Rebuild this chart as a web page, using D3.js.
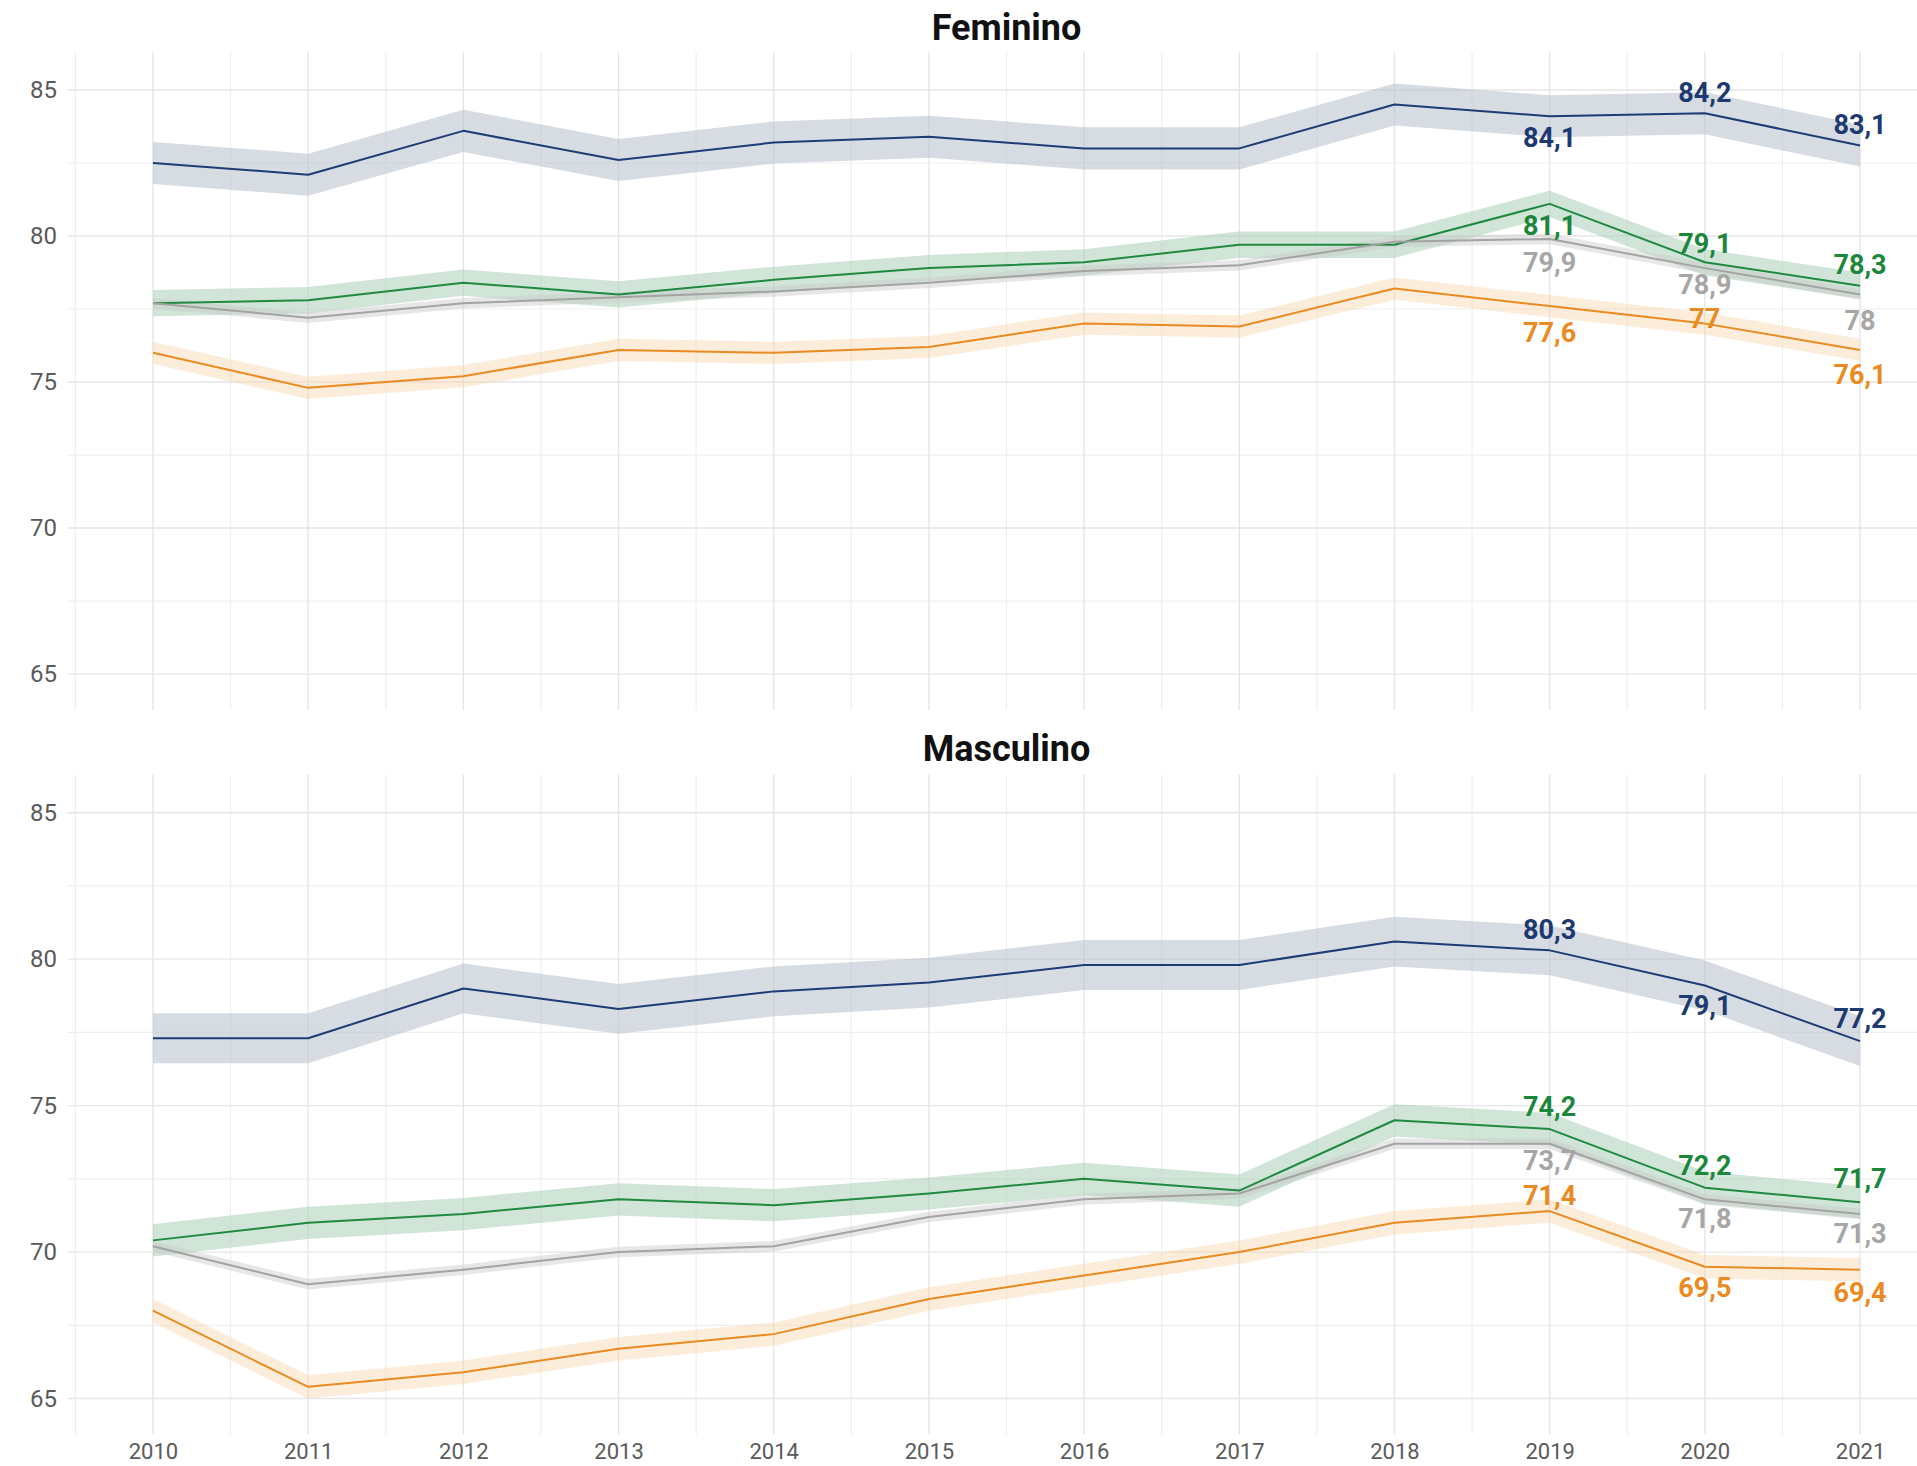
<!DOCTYPE html>
<html>
<head>
<meta charset="utf-8">
<script src="https://cdn.jsdelivr.net/npm/d3@7"></script>
<style>
  body { margin: 0; background: #ffffff; }
  svg { display: block; }
  text { font-family: Roboto, "Noto Sans", "DejaVu Sans", sans-serif; }
</style>
</head>
<body>
<svg id="chart" width="1917" height="1466"></svg>
<script>
// ---------------- DATA ----------------
const years = [2010, 2011, 2012, 2013, 2014, 2015, 2016, 2017, 2018, 2019, 2020, 2021];
const yTickValues = [65, 70, 75, 80, 85];
const panelTitles = ["Feminino", "Masculino"];
const seriesKeys = ["azul", "verde", "cinza", "laranja"];
const labelYears = [2019, 2020, 2021];

// Feminino
const femAzul    = [82.5, 82.1, 83.6, 82.6, 83.2, 83.4, 83.0, 83.0, 84.5, 84.1, 84.2, 83.1];
const femVerde   = [77.7, 77.8, 78.4, 78.0, 78.5, 78.9, 79.1, 79.7, 79.7, 81.1, 79.1, 78.3];
const femCinza   = [77.7, 77.2, 77.7, 77.9, 78.1, 78.4, 78.8, 79.0, 79.8, 79.9, 78.9, 78.0];
const femLaranja = [76.0, 74.8, 75.2, 76.1, 76.0, 76.2, 77.0, 76.9, 78.2, 77.6, 77.0, 76.1];

// Masculino
const mascAzul    = [77.3, 77.3, 79.0, 78.3, 78.9, 79.2, 79.8, 79.8, 80.6, 80.3, 79.1, 77.2];
const mascVerde   = [70.4, 71.0, 71.3, 71.8, 71.6, 72.0, 72.5, 72.1, 74.5, 74.2, 72.2, 71.7];
const mascCinza   = [70.2, 68.9, 69.4, 70.0, 70.2, 71.2, 71.8, 72.0, 73.7, 73.7, 71.8, 71.3];
const mascLaranja = [68.0, 65.4, 65.9, 66.7, 67.2, 68.4, 69.2, 70.0, 71.0, 71.4, 69.5, 69.4];

// confidence-band half widths (azul, verde, cinza, laranja)
const femBand  = [0.72, 0.45, 0.18, 0.38];
const mascBand = [0.85, 0.55, 0.18, 0.40];

// ---------------- STYLE / LAYOUT ----------------
const lineColor   = { azul: "#1d3b75", verde: "#1f8a3f", cinza: "#a3a3a3", laranja: "#ea8a20" };
const labelColor  = { azul: "#1c3970", verde: "#1c873b", cinza: "#a6a6a6", laranja: "#ea8a20" };
const bandColor   = { azul: "#b5c0ca", verde: "#a9cdb8", cinza: "#c9c9c9", laranja: "#f5d3a6" };
const bandOpacity = { azul: 0.55, verde: 0.55, cinza: 0.45, laranja: 0.42 };

// label vertical offsets (px) per panel, series, label year
const labelOffsets = [
  { azul: [21, -21, -21], verde: [21, -19, -21], cinza: [23, 16, 26], laranja: [26, -5, 24] },
  { azul: [-21, 20, -23], verde: [-23, -22, -24], cinza: [17, 19, 19], laranja: [-16, 21, 23] }
];

const panelLayout = [
  { top: 52,    bottom: 710,    titleY: 27 },
  { top: 774.6, bottom: 1434.6, titleY: 748 }
];

const xLeft = 67.6, xRight = 1945.4;
const yDomain = [63.77, 86.3];

const svg = d3.select("#chart");

const x = d3.scaleLinear().domain([2009.45, 2021.55]).range([xLeft, xRight]);

const panelData = [
  { title: panelTitles[0], values: { azul: femAzul, verde: femVerde, cinza: femCinza, laranja: femLaranja }, band: femBand },
  { title: panelTitles[1], values: { azul: mascAzul, verde: mascVerde, cinza: mascCinza, laranja: mascLaranja }, band: mascBand }
];

const fmt = v => String(v).replace(".", ",");

panelData.forEach((p, pi) => {
  const L = panelLayout[pi];
  const y = d3.scaleLinear().domain(yDomain).range([L.bottom, L.top]);
  const g = svg.append("g");

  // minor gridlines
  const xMinor = years.map(d => d - 0.5).concat([years[years.length - 1] + 0.5]);
  const yMinor = yTickValues.map(d => d + 2.5).filter(d => d < yDomain[1]).concat(
    yTickValues.map(d => d - 2.5).filter(d => d > yDomain[0]));
  g.append("g").selectAll("line.xm").data(xMinor).join("line")
    .attr("x1", d => x(d)).attr("x2", d => x(d))
    .attr("y1", L.top).attr("y2", L.bottom)
    .attr("stroke", "#efefef").attr("stroke-width", 1.2);
  g.append("g").selectAll("line.ym").data(Array.from(new Set(yMinor))).join("line")
    .attr("x1", xLeft).attr("x2", xRight)
    .attr("y1", d => y(d)).attr("y2", d => y(d))
    .attr("stroke", "#efefef").attr("stroke-width", 1.2);

  // major gridlines
  g.append("g").selectAll("line.xM").data(years).join("line")
    .attr("x1", d => x(d)).attr("x2", d => x(d))
    .attr("y1", L.top).attr("y2", L.bottom)
    .attr("stroke", "#e6e6e6").attr("stroke-width", 1.4);
  g.append("g").selectAll("line.yM").data(yTickValues).join("line")
    .attr("x1", xLeft).attr("x2", xRight)
    .attr("y1", d => y(d)).attr("y2", d => y(d))
    .attr("stroke", "#e6e6e6").attr("stroke-width", 1.4);

  // y axis labels
  const yAxis = d3.axisLeft(y).tickValues(yTickValues).tickSize(0).tickPadding(0).tickFormat(d3.format("d"));
  const ya = g.append("g").attr("transform", `translate(57,0)`).call(yAxis);
  ya.select(".domain").remove();
  ya.selectAll("text").attr("font-size", 24).attr("fill", "#5a5a5a")
    .attr("font-family", "Roboto, 'Noto Sans', sans-serif");

  // x axis labels (bottom panel only)
  if (pi === panelData.length - 1) {
    const xAxis = d3.axisBottom(x).tickValues(years).tickSize(0).tickPadding(0).tickFormat(d3.format("d"));
    const xa = g.append("g").attr("transform", `translate(0,1443)`).call(xAxis);
    xa.select(".domain").remove();
    xa.selectAll("text").attr("font-size", 22).attr("fill", "#5a5a5a")
      .attr("font-family", "Roboto, 'Noto Sans', sans-serif").attr("dy", "0.71em");
  }

  // title
  g.append("text").attr("x", (xLeft + xRight) / 2).attr("y", L.titleY)
    .attr("text-anchor", "middle").attr("dy", "0.36em")
    .attr("font-size", 36).attr("font-weight", 700).attr("fill", "#111111")
    .text(p.title);

  const clipId = "clip" + pi;
  svg.append("clipPath").attr("id", clipId).append("rect")
    .attr("x", xLeft).attr("y", L.top).attr("width", xRight - xLeft).attr("height", L.bottom - L.top);
  const plot = g.append("g").attr("clip-path", `url(#${clipId})`);

  // ribbons
  seriesKeys.forEach((k, si) => {
    const vals = p.values[k];
    const hw = p.band[si];
    const area = d3.area()
      .x((d, i) => x(years[i]))
      .y0(d => y(d - hw))
      .y1(d => y(d + hw));
    plot.append("path").datum(vals).attr("d", area)
      .attr("fill", bandColor[k]).attr("fill-opacity", bandOpacity[k]);
  });

  // lines
  seriesKeys.forEach(k => {
    const vals = p.values[k];
    const line = d3.line().x((d, i) => x(years[i])).y(d => y(d));
    plot.append("path").datum(vals).attr("d", line)
      .attr("fill", "none").attr("stroke", lineColor[k]).attr("stroke-width", 2)
      .attr("stroke-linejoin", "round");
  });

  // value labels
  seriesKeys.forEach(k => {
    const vals = p.values[k];
    labelYears.forEach((yr, li) => {
      const i = years.indexOf(yr);
      g.append("text")
        .attr("x", x(yr)).attr("y", y(vals[i]) + labelOffsets[pi][k][li])
        .attr("text-anchor", "middle").attr("dy", "0.36em")
        .attr("font-size", 27).attr("font-weight", 700)
        .attr("fill", labelColor[k])
        .text(fmt(vals[i]));
    });
  });
});
</script>
</body>
</html>
